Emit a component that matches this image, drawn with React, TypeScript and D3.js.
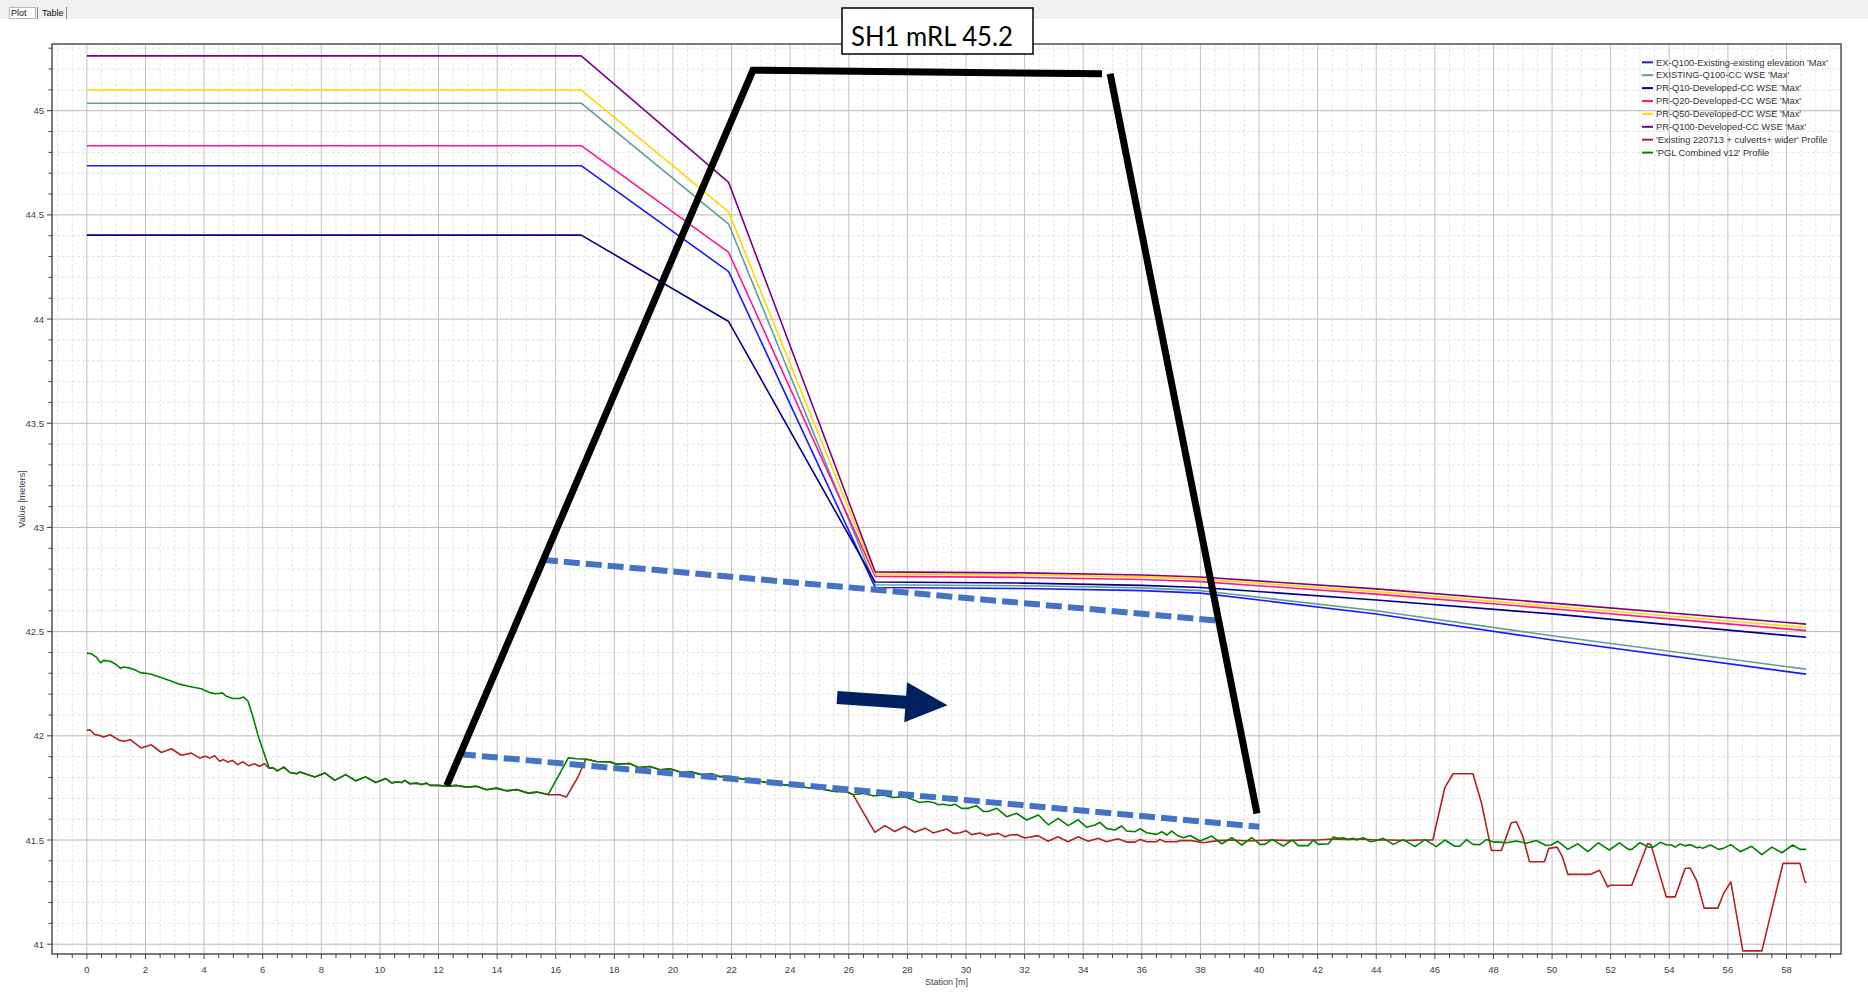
import React from "react";
import * as d3 from "d3";

// ---- Series values (station [m], value [m]) ----
const wseStations = [0, 16.87, 21.9, 26.9, 32, 36, 38, 44, 50, 58.67];

const exQ100Existing = [44.736, 44.736, 44.228, 42.712, 42.707, 42.697, 42.685, 42.585, 42.46, 42.296];
const existingQ100CC = [45.036, 45.036, 44.456, 42.725, 42.72, 42.71, 42.697, 42.6, 42.48, 42.32];
const prQ10Developed = [44.403, 44.403, 43.988, 42.738, 42.733, 42.722, 42.712, 42.652, 42.585, 42.473];
const prQ20Developed = [44.832, 44.832, 44.32, 42.765, 42.76, 42.75, 42.74, 42.68, 42.61, 42.505];
const prQ50Developed = [45.099, 45.099, 44.514, 42.777, 42.773, 42.763, 42.752, 42.692, 42.622, 42.52];
const prQ100Developed = [45.263, 45.263, 44.656, 42.787, 42.782, 42.772, 42.762, 42.705, 42.637, 42.536];

// Reaches where the two ground profiles coincide
const commonReachA: [number, number][] = [
  [6.22, 41.845], [6.36, 41.846], [6.5, 41.832], [6.72, 41.85], [6.93, 41.824], [7.16, 41.818],
  [7.27, 41.826], [7.78, 41.802], [8.12, 41.822], [8.46, 41.786], [8.83, 41.814], [9.18, 41.784],
  [9.51, 41.803], [9.86, 41.776], [10.2, 41.795], [10.4, 41.774], [10.57, 41.779], [10.74, 41.776],
  [10.85, 41.786], [11.02, 41.77], [11.25, 41.773], [11.42, 41.766], [11.59, 41.773], [11.71, 41.762],
  [11.99, 41.762], [12.28, 41.758], [12.62, 41.762], [12.96, 41.754], [13.3, 41.758], [13.64, 41.741],
  [13.98, 41.749], [14.32, 41.736], [14.67, 41.742], [15.06, 41.725], [15.35, 41.73], [15.74, 41.718],
];
const commonReachB: [number, number][] = [
  [17.05, 41.888], [17.39, 41.877], [17.85, 41.875], [18.08, 41.864], [18.53, 41.867], [18.82, 41.848],
  [19.22, 41.853], [19.56, 41.837], [19.9, 41.842], [20.3, 41.824], [20.64, 41.827], [20.98, 41.813],
  [21.32, 41.818], [21.6, 41.804], [22.0, 41.804], [22.4, 41.792], [22.74, 41.788], [23.2, 41.776],
  [23.65, 41.768], [24.1, 41.76], [24.56, 41.752], [25.01, 41.746], [25.53, 41.733], [25.93, 41.732],
  [26.15, 41.717],
];

const pglCombinedV12: [number, number][] = [
  [0, 42.397], [0.15, 42.394], [0.32, 42.378], [0.47, 42.35], [0.57, 42.362], [0.8, 42.358],
  [1.0, 42.342], [1.15, 42.323], [1.23, 42.33], [1.46, 42.326], [1.63, 42.317], [1.85, 42.302],
  [2.14, 42.298], [2.48, 42.282], [2.82, 42.266], [3.16, 42.248], [3.5, 42.237], [3.9, 42.226],
  [4.02, 42.218], [4.24, 42.206], [4.41, 42.202], [4.62, 42.206], [4.76, 42.19], [4.98, 42.179],
  [5.21, 42.179], [5.35, 42.186], [5.5, 42.166], [5.67, 42.09], [5.84, 42.002],
  ...commonReachA,
  [16.43, 41.894], [16.71, 41.89],
  ...commonReachB,
  [26.49, 41.724], [26.83, 41.712], [27.17, 41.716], [27.51, 41.704], [27.91, 41.708], [28.19, 41.693],
  [28.43, 41.68], [28.66, 41.685], [28.89, 41.68], [29.06, 41.669], [29.23, 41.672], [29.45, 41.666],
  [29.62, 41.672], [29.85, 41.652], [30.08, 41.652], [30.36, 41.665], [30.59, 41.637], [30.76, 41.637],
  [31.05, 41.652], [31.39, 41.612], [31.73, 41.628], [32.07, 41.596], [32.47, 41.62], [32.81, 41.573],
  [33.15, 41.604], [33.49, 41.569], [33.83, 41.597], [34.12, 41.561], [34.4, 41.572], [34.57, 41.585],
  [34.79, 41.556], [35.08, 41.548], [35.31, 41.567], [35.48, 41.543], [35.77, 41.54], [35.94, 41.554],
  [36.17, 41.535], [36.51, 41.527], [36.68, 41.54], [36.85, 41.524], [37.02, 41.543], [37.25, 41.519],
  [37.42, 41.511], [37.65, 41.522], [37.99, 41.495], [38.39, 41.519], [38.73, 41.482], [39.07, 41.511],
  [39.41, 41.476], [39.75, 41.511], [40.03, 41.479], [40.2, 41.479], [40.45, 41.503], [40.83, 41.471],
  [41.13, 41.5], [41.34, 41.473], [41.68, 41.473], [41.85, 41.5], [42.03, 41.479], [42.37, 41.482],
  [42.54, 41.514], [42.71, 41.508], [42.88, 41.511], [43.05, 41.503], [43.22, 41.508], [43.33, 41.5],
  [43.56, 41.511], [43.79, 41.492], [43.96, 41.495], [44.24, 41.508], [44.58, 41.479], [44.92, 41.502],
  [45.32, 41.468], [45.66, 41.502], [46.05, 41.468], [46.34, 41.5], [46.68, 41.47], [46.85, 41.47],
  [47.08, 41.502], [47.3, 41.479], [47.53, 41.478], [47.76, 41.502], [47.99, 41.49], [48.22, 41.49],
  [48.44, 41.487], [48.78, 41.495], [49.12, 41.484], [49.46, 41.498], [49.8, 41.474], [49.97, 41.476],
  [50.2, 41.494], [50.54, 41.455], [50.88, 41.482], [51.22, 41.444], [51.58, 41.486], [51.95, 41.452],
  [52.3, 41.486], [52.6, 41.455], [52.72, 41.455], [53.0, 41.487], [53.29, 41.466], [53.46, 41.466],
  [53.69, 41.489], [53.91, 41.476], [54.08, 41.476], [54.2, 41.466], [54.37, 41.481], [54.54, 41.472],
  [54.71, 41.478], [54.94, 41.463], [55.05, 41.466], [55.14, 41.46], [55.41, 41.476], [55.68, 41.455],
  [55.85, 41.46], [56.1, 41.478], [56.42, 41.444], [56.81, 41.47], [57.16, 41.43], [57.5, 41.466],
  [57.84, 41.439], [58.21, 41.476], [58.46, 41.455], [58.67, 41.455],
];

const existingCulvertsWider: [number, number][] = [
  [0, 42.026], [0.11, 42.029], [0.26, 42.006], [0.43, 42.002], [0.57, 41.994], [0.8, 42.005],
  [1.11, 41.978], [1.29, 41.974], [1.48, 41.982], [1.85, 41.942], [2.2, 41.957], [2.54, 41.92],
  [2.88, 41.938], [3.22, 41.907], [3.56, 41.917], [3.85, 41.894], [4.05, 41.902], [4.19, 41.893],
  [4.36, 41.904], [4.53, 41.878], [4.66, 41.886], [4.81, 41.874], [4.96, 41.882], [5.15, 41.862],
  [5.32, 41.875], [5.53, 41.856], [5.72, 41.866], [5.89, 41.854], [6.06, 41.866],
  ...commonReachA,
  [16.13, 41.717], [16.36, 41.706], [16.75, 41.8], [17.0, 41.88],
  ...commonReachB,
  [26.89, 41.537], [27.23, 41.569], [27.57, 41.541], [27.91, 41.565], [28.25, 41.537], [28.6, 41.557],
  [28.88, 41.534], [29.34, 41.553], [29.57, 41.532], [29.8, 41.535], [30.0, 41.545], [30.19, 41.526],
  [30.48, 41.534], [30.71, 41.521], [30.88, 41.527], [31.11, 41.532], [31.33, 41.516], [31.5, 41.524],
  [31.73, 41.526], [32.0, 41.51], [32.46, 41.521], [32.8, 41.494], [33.14, 41.516], [33.48, 41.492],
  [33.83, 41.516], [34.17, 41.494], [34.51, 41.508], [34.79, 41.492], [35.19, 41.506], [35.48, 41.49],
  [35.77, 41.49], [35.94, 41.503], [36.17, 41.492], [36.51, 41.492], [36.62, 41.503], [36.79, 41.492],
  [37.19, 41.492], [37.3, 41.498], [37.7, 41.497], [38.1, 41.487], [38.6, 41.497], [39.1, 41.5],
  [39.6, 41.495], [40.0, 41.498], [40.5, 41.5], [41.0, 41.497], [41.5, 41.5], [42.0, 41.5],
  [42.5, 41.505], [43.0, 41.503], [43.5, 41.505], [44.0, 41.5], [44.5, 41.5], [45.0, 41.498],
  [45.5, 41.5], [45.93, 41.5], [46.34, 41.751], [46.62, 41.818], [47.3, 41.818], [47.59, 41.679],
  [47.93, 41.45], [48.27, 41.45], [48.61, 41.583], [48.78, 41.588], [49.0, 41.519], [49.23, 41.396],
  [49.74, 41.396], [49.89, 41.46], [50.17, 41.466], [50.35, 41.42], [50.54, 41.335], [51.3, 41.335],
  [51.62, 41.355], [51.9, 41.275], [51.98, 41.283], [52.72, 41.283], [53.26, 41.482], [53.37, 41.479],
  [53.9, 41.227], [54.2, 41.227], [54.54, 41.363], [54.71, 41.366], [54.94, 41.304], [55.19, 41.173],
  [55.66, 41.173], [55.85, 41.243], [56.1, 41.299], [56.51, 40.968], [57.16, 40.968], [57.88, 41.388],
  [58.46, 41.388], [58.63, 41.299], [58.69, 41.296],
];

// ---- Legend / series styling ----
const seriesNames = [
  "EX-Q100-Existing-existing elevation 'Max'",
  "EXISTING-Q100-CC WSE 'Max'",
  "PR-Q10-Developed-CC WSE 'Max'",
  "PR-Q20-Developed-CC WSE 'Max'",
  "PR-Q50-Developed-CC WSE 'Max'",
  "PR-Q100-Developed-CC WSE 'Max'",
  "'Existing 220713 + culverts+ wider' Profile",
  "'PGL Combined v12' Profile",
];
const seriesColors = ["#1a1aff", "#5f9ea0", "#00008b", "#ff1493", "#ffd700", "#800080", "#b22222", "#008000"];

// ---- Axes ----
const xDomain: [number, number] = [-1.19, 59.86];
const yDomain: [number, number] = [40.953, 45.32];
const xTickLabels = d3.range(0, 59, 2);
const yTickLabels = [41, 41.5, 42, 42.5, 43, 43.5, 44, 44.5, 45];
const xAxisTitle = "Station [m]";
const yAxisTitle = "Value [meters]";

// ---- Markup drawn over the profile (station, value) ----
const embankmentLeft: [number, number][] = [[12.28, 41.761], [22.73, 45.194], [34.64, 45.177]];
const embankmentRight: [number, number][] = [[34.92, 45.177], [39.93, 41.627]];
const gradeUpper: [number, number][] = [[15.53, 42.845], [38.58, 42.553]];
const gradeLower: [number, number][] = [[12.73, 41.912], [40.01, 41.564]];
const flowArrow: [number, number][] = [[25.6, 42.184], [29.37, 42.147]];
const calloutText = "SH1 mRL 45.2";
const tabLabels = ["Plot", "Table"];

const W = 1868;
const H = 996;
const plot = { left: 52, top: 44, right: 1841, bottom: 954 };
const uiFont = "'Liberation Sans', Arial, sans-serif";

export default function App() {
  const x = d3.scaleLinear().domain(xDomain).range([plot.left, plot.right]);
  const y = d3.scaleLinear().domain(yDomain).range([plot.bottom, plot.top]);
  const line = d3.line<[number, number]>().x((d) => x(d[0])).y((d) => y(d[1]));

  const wseSeries = [exQ100Existing, existingQ100CC, prQ10Developed, prQ20Developed, prQ50Developed, prQ100Developed]
    .map((vals) => vals.map((v, i) => [wseStations[i], v] as [number, number]));

  // draw order: profiles first, then water surfaces
  const drawOrder: { pts: [number, number][]; color: string }[] = [
    { pts: existingCulvertsWider, color: seriesColors[6] },
    { pts: pglCombinedV12, color: seriesColors[7] },
    { pts: wseSeries[1], color: seriesColors[1] },
    { pts: wseSeries[0], color: seriesColors[0] },
    { pts: wseSeries[2], color: seriesColors[2] },
    { pts: wseSeries[3], color: seriesColors[3] },
    { pts: wseSeries[4], color: seriesColors[4] },
    { pts: wseSeries[5], color: seriesColors[5] },
  ];

  const round = (v: number) => Math.round(v * 1000) / 1000;
  const xMinor = d3.range(-1, 59.9, 0.5).map(round).filter((v) => Math.abs(v % 2) > 1e-6);
  const xMajor = d3.range(0, 59.9, 2);
  const yMinor = d3.range(41, 45.32, 0.1).map(round).filter((v) => Math.abs((v * 2) % 1) > 1e-6);
  const yMajor = yTickLabels;

  // flow arrow geometry
  const [ax0, ay0] = [x(flowArrow[0][0]), y(flowArrow[0][1])];
  const [ax1, ay1] = [x(flowArrow[1][0]), y(flowArrow[1][1])];
  const len = Math.hypot(ax1 - ax0, ay1 - ay0);
  const ang = (Math.atan2(ay1 - ay0, ax1 - ax0) * 180) / Math.PI;
  const headLen = 42;
  const bodyHalf = 6.5;
  const headHalf = 20;
  const arrowPts = [
    [0, -bodyHalf], [len - headLen, -bodyHalf], [len - headLen, -headHalf], [len, 0],
    [len - headLen, headHalf], [len - headLen, bodyHalf], [0, bodyHalf],
  ].map((p) => p.join(",")).join(" ");

  return (
    <svg width={W} height={H} style={{ position: "absolute", left: 0, top: 0, display: "block", background: "#fff" }}>
      {/* tab strip */}
      <rect x={0} y={0} width={W} height={19} fill="#f0f0f0" />
      <rect x={9.5} y={7.5} width={26} height={11} fill="#fff" stroke="#777" strokeDasharray="1,1" />
      <text x={11} y={16} fontFamily={uiFont} fontSize={9} fill="#111">{tabLabels[0]}</text>
      <line x1={37.5} y1={7} x2={37.5} y2={19} stroke="#888" />
      <text x={42} y={16} fontFamily={uiFont} fontSize={9} fill="#111">{tabLabels[1]}</text>
      <line x1={66.5} y1={7} x2={66.5} y2={19} stroke="#888" />

      {/* grid */}
      <g>
        {xMinor.map((v) => (
          <line key={"xm" + v} x1={x(v)} x2={x(v)} y1={plot.top} y2={plot.bottom} stroke="#e4e4e4" strokeDasharray="3,2" />
        ))}
        {yMinor.map((v) => (
          <line key={"ym" + v} x1={plot.left} x2={plot.right} y1={y(v)} y2={y(v)} stroke="#e4e4e4" strokeDasharray="3,2" />
        ))}
        {xMajor.map((v) => (
          <line key={"xM" + v} x1={x(v)} x2={x(v)} y1={plot.top} y2={plot.bottom} stroke="#c2c2c2" />
        ))}
        {yMajor.map((v) => (
          <line key={"yM" + v} x1={plot.left} x2={plot.right} y1={y(v)} y2={y(v)} stroke="#b8b8b8" />
        ))}
      </g>

      {/* series */}
      <g fill="none" strokeWidth={1.6} strokeLinejoin="round">
        {drawOrder.map((s, i) => (
          <path key={i} d={line(s.pts) || ""} stroke={s.color} />
        ))}
      </g>

      {/* frame + ticks */}
      <rect x={plot.left} y={plot.top} width={plot.right - plot.left} height={plot.bottom - plot.top} fill="none" stroke="#505050" strokeWidth={1.5} />
      <g stroke="#404040">
        {xMinor.map((v) => <line key={"xtm" + v} x1={x(v)} x2={x(v)} y1={plot.bottom} y2={plot.bottom + 4} />)}
        {xMajor.map((v) => <line key={"xtM" + v} x1={x(v)} x2={x(v)} y1={plot.bottom} y2={plot.bottom + 5} />)}
        {yMinor.map((v) => <line key={"ytm" + v} x1={plot.left - 3.5} x2={plot.left} y1={y(v)} y2={y(v)} />)}
        {yMajor.map((v) => <line key={"ytM" + v} x1={plot.left - 5} x2={plot.left} y1={y(v)} y2={y(v)} />)}
      </g>
      <g fontFamily={uiFont} fontSize={9.5} fill="#404040">
        {xTickLabels.map((v) => (
          <text key={"xl" + v} x={x(v)} y={plot.bottom + 19} textAnchor="middle">{v}</text>
        ))}
        {yTickLabels.map((v) => (
          <text key={"yl" + v} x={plot.left - 8} y={y(v) + 3.5} textAnchor="end">{v}</text>
        ))}
        <text x={(plot.left + plot.right) / 2} y={985} textAnchor="middle" fontSize={9}>{xAxisTitle}</text>
        <text transform={`translate(25,${(plot.top + plot.bottom) / 2}) rotate(-90)`} textAnchor="middle" fontSize={9}>{yAxisTitle}</text>
      </g>

      {/* legend */}
      <g fontFamily={uiFont} fontSize={9.3} fill="#333">
        {seriesNames.map((name, i) => (
          <g key={name} transform={`translate(1642,${62.3 + i * 12.9})`}>
            <line x1={0} x2={11} y1={0} y2={0} stroke={seriesColors[i]} strokeWidth={2} />
            <text x={14} y={3.2}>{name}</text>
          </g>
        ))}
      </g>

      {/* markup */}
      <g fill="none" strokeLinecap="butt">
        <path d={line(gradeUpper) || ""} stroke="#4472c4" strokeWidth={6} strokeDasharray="16,6" />
        <path d={line(gradeLower) || ""} stroke="#4472c4" strokeWidth={6} strokeDasharray="16,6" />
        <path d={line(embankmentLeft) || ""} stroke="#000" strokeWidth={7} strokeLinejoin="miter" />
        <path d={line(embankmentRight) || ""} stroke="#000" strokeWidth={7} />
      </g>
      <polygon points={arrowPts} transform={`translate(${ax0},${ay0}) rotate(${ang})`} fill="#002060" />

      {/* callout box */}
      <rect x={842} y={8} width={191} height={46} fill="#fff" stroke="#000" strokeWidth={1.5} />
      <text x={851} y={46} fontFamily="Lato, 'Open Sans', sans-serif" fontSize={27} textLength={162} lengthAdjust="spacingAndGlyphs" fill="#000">{calloutText}</text>
    </svg>
  );
}
